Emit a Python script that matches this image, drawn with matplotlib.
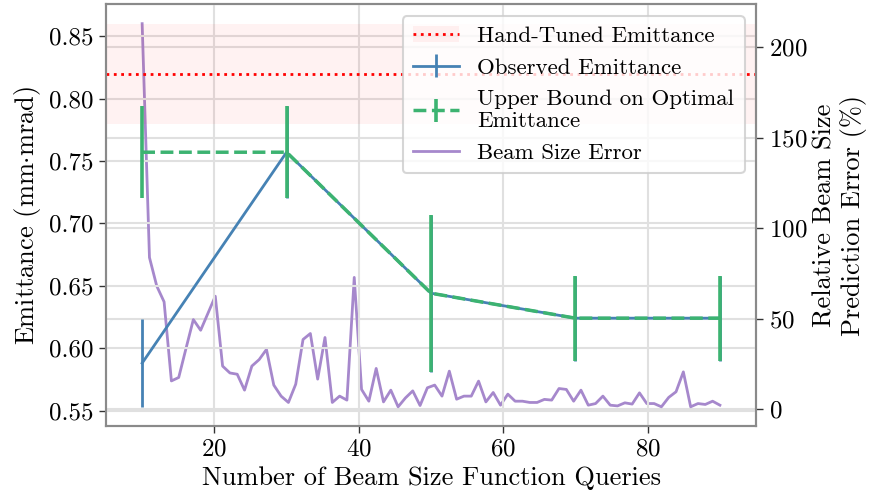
import matplotlib
matplotlib.use("Agg")
import matplotlib.pyplot as plt
import numpy as np
from matplotlib.patches import Patch
from matplotlib.lines import Line2D

plt.rcParams["font.family"] = ["cmr10", "DejaVu Serif"]
plt.rcParams["mathtext.fontset"] = "cm"
plt.rcParams["axes.formatter.use_mathtext"] = True

# Bayesian-optimisation checkpoints
queries = [10, 30, 50, 70, 90]
observed = [0.588, 0.757, 0.644, 0.624, 0.624]
observed_err = [0.035, 0.037, 0.063, 0.034, 0.034]
upper_bound = [0.757, 0.757, 0.644, 0.624, 0.624]
upper_bound_err = [0.037, 0.037, 0.063, 0.034, 0.034]

# Hand-tuned reference emittance and its uncertainty
hand_tuned = 0.82
hand_tuned_err = 0.04

# Relative beam size prediction error (%) after each query
beam_size_error = [
    213, 83.8, 68, 59.3, 15.6, 17.5, 33.6, 49.5, 43.6, 53,
    62.4, 23.8, 20, 19.3, 10.5, 23.8, 27.4, 33, 13.3, 7.2,
    3.7, 13.8, 38.5, 41.8, 16.6, 39.6, 3.7, 7.2, 5, 72.8,
    10.9, 4.4, 22.5, 4, 10.5, 1.3, 6.2, 10.1, 2, 11.8,
    13.3, 7.2, 21, 5.5, 7.2, 7.2, 15.5, 4, 9.2, 2.2,
    8.3, 4.4, 4.4, 3.7, 3.7, 5.4, 5, 11.4, 10.9, 4.4,
    10.5, 2.2, 3.1, 7.2, 2.2, 1.8, 3.5, 2.8, 9, 3.1,
    3.1, 1.3, 6.5, 9.6, 20.6, 1.3, 3.1, 2.6, 4.4, 2.2,
]
error_queries = np.linspace(10, 90, len(beam_size_error))

blue = "#4682b4"
green = "#3cb371"
purple = "#a688cc"
grid_c = "#e0e0e0"
spine_c = "#8a8a8a"

fig = plt.figure(figsize=(8.72, 4.98), dpi=100)
ax1 = fig.add_axes([0.1216, 0.1446, 0.867 - 0.1216, 0.991 - 0.1446])
ax2 = ax1.twinx()

# left axis above the twin so the emittance curves sit on top
ax1.set_zorder(2)
ax2.set_zorder(1)
ax1.patch.set_visible(False)
ax2.patch.set_facecolor("#fafafa")

ax1.axhspan(hand_tuned - hand_tuned_err, hand_tuned + hand_tuned_err,
            color="red", alpha=0.05, lw=0, zorder=1)
ax1.axhline(hand_tuned, color="red", ls=":", lw=2, zorder=2)

obs = ax1.errorbar(queries, observed, yerr=observed_err, color=blue,
                   lw=2, elinewidth=2, capsize=0, zorder=3)
ub = ax1.errorbar(queries, upper_bound, yerr=upper_bound_err, color=green,
                  lw=2.5, ls="--", elinewidth=2.6, capsize=0, zorder=4)

err_line, = ax2.plot(error_queries, beam_size_error, color=purple, lw=2)

ax1.set_xlim(5, 95)
ax1.set_ylim(0.5376, 0.8754)
ax2.set_ylim(-9.3, 223.6)
ax1.set_yticks([0.55, 0.60, 0.65, 0.70, 0.75, 0.80, 0.85])
ax1.set_yticklabels(["0.55", "0.60", "0.65", "0.70", "0.75", "0.80", "0.85"])
ax1.set_xticks([20, 40, 60, 80])
ax2.set_yticks([0, 50, 100, 150, 200])

ax1.grid(True, color=grid_c, lw=1.5)
ax2.grid(True, axis="y", color=grid_c, lw=1.5)
ax1.set_axisbelow(True)

for ax in (ax1, ax2):
    for s in ax.spines.values():
        s.set_color(spine_c)
        s.set_linewidth(1.5)
    ax.tick_params(labelsize=18, direction="out", length=5, width=1,
                   color="#333333", pad=4)

ax1.set_xlabel("Number of Beam Size Function Queries", fontsize=19)
ax1.set_ylabel(r"Emittance (mm$\cdot$mrad)", fontsize=19)
ax2.set_ylabel("Relative Beam Size\nPrediction Error (%)", fontsize=19)

hand_handle = (Patch(facecolor="red", alpha=0.05, lw=0),
               Line2D([], [], color="red", ls=":", lw=2))
leg = ax1.legend(
    [hand_handle, obs, ub, err_line],
    ["Hand-Tuned Emittance", "Observed Emittance",
     "Upper Bound on Optimal\nEmittance", "Beam Size Error"],
    loc="upper right", fontsize=16.5, framealpha=0.8, edgecolor="#cccccc",
    labelspacing=0.5, handletextpad=0.8, borderpad=0.45,
)
leg.get_frame().set_linewidth(1.5)

fig.savefig("out.png", dpi=100)
